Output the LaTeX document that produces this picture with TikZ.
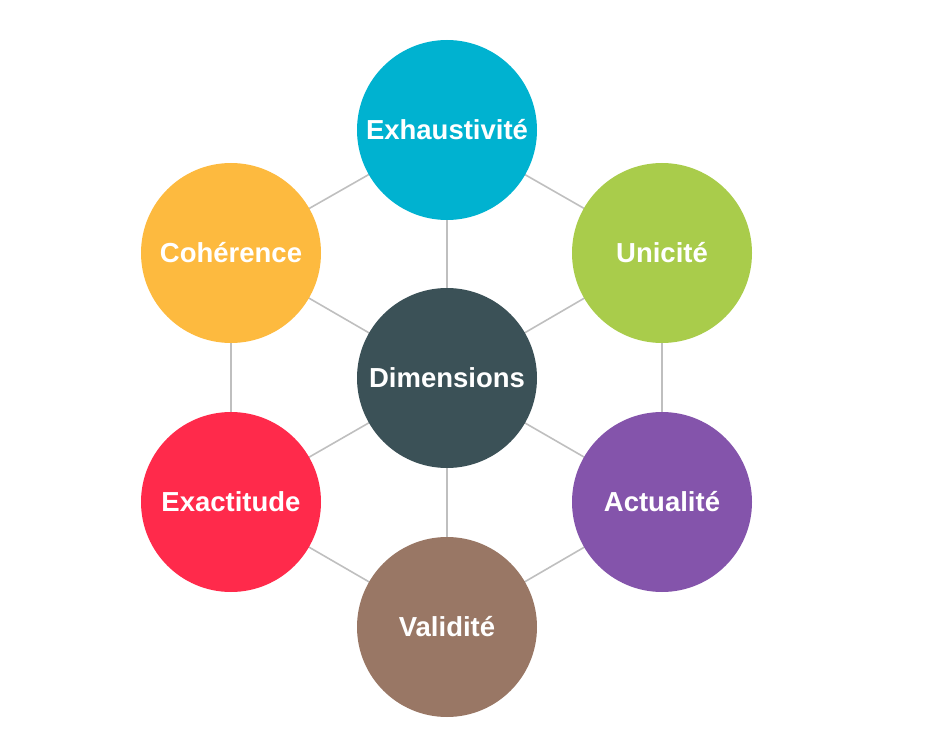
\documentclass[tikz,border=0pt]{standalone}
\usepackage{fontspec}
\setmainfont{Liberation Sans}
\begin{document}
\begin{tikzpicture}[x=1pt,y=-1pt,
  dim/.style={circle,minimum size=180pt,inner sep=0pt,text=white,
    font=\fontsize{27.5}{32}\selectfont\bfseries},
  link/.style={draw=black!25,line width=1.6pt}]
\definecolor{cExh}{HTML}{00B2D0}
\definecolor{cUni}{HTML}{A9CC4B}
\definecolor{cAct}{HTML}{8454AB}
\definecolor{cVal}{HTML}{997765}
\definecolor{cExa}{HTML}{FF2A4B}
\definecolor{cCoh}{HTML}{FDBA3F}
\definecolor{cDim}{HTML}{3B5157}
\useasboundingbox (0,0) rectangle (932,754);
% positions of the seven circles
\coordinate (pD) at (447,378);
\coordinate (pE) at (447,130);
\coordinate (pU) at (662,253);
\coordinate (pA) at (662,502);
\coordinate (pV) at (447,627);
\coordinate (pX) at (231,502);
\coordinate (pC) at (231,253);
% connectors: spokes and outer ring
\foreach \a in {pE,pU,pA,pV,pX,pC} \draw[link] (pD) -- (\a);
\draw[link] (pE) -- (pU) -- (pA) -- (pV) -- (pX) -- (pC) -- cycle;
% circles
\node[dim,fill=cDim] (dim) at (pD) {Dimensions};
\node[dim,fill=cExh] (exh) at (pE) {Exhaustivité};
\node[dim,fill=cUni] (uni) at (pU) {Unicité};
\node[dim,fill=cAct] (act) at (pA) {Actualité};
\node[dim,fill=cVal] (val) at (pV) {Validité};
\node[dim,fill=cExa] (exa) at (pX) {Exactitude};
\node[dim,fill=cCoh] (coh) at (pC) {Cohérence};
\end{tikzpicture}
\end{document}
